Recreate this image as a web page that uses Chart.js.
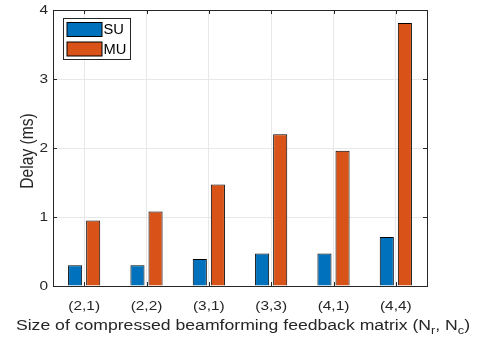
<!DOCTYPE html>
<html>
<head>
<meta charset="utf-8">
<script src="https://cdn.jsdelivr.net/npm/chart.js@4.4.0/dist/chart.umd.min.js"></script>
<style>
  html, body { margin: 0; padding: 0; background: #fff; }
  #wrap { width: 477px; height: 341px; }
</style>
</head>
<body>
<div id="wrap"><canvas id="delayChart" width="477" height="341"></canvas></div>
<script>
// Feedback matrix sizes and measured delays (ms)
const categories = ['(2,1)', '(2,2)', '(3,1)', '(3,3)', '(4,1)', '(4,4)'];
const suDelay = [0.30, 0.30, 0.39, 0.47, 0.47, 0.71];
const muDelay = [0.95, 1.08, 1.47, 2.20, 1.96, 3.81];
const yTicks = [0, 1, 2, 3, 4];

const FONT = '"Liberation Sans", Arial, sans-serif';
const AXIS_COLOR = '#262626';
const STRETCH = 1.16; // the figure's text is drawn slightly wide

// text drawn with a horizontal stretch
function wideText(ctx, text, x, y, align, sx) {
    ctx.save();
    ctx.translate(x, y);
    ctx.scale(sx || STRETCH, 1);
    ctx.textAlign = align;
    ctx.fillText(text, 0, 0);
    ctx.restore();
}

// Box, inward ticks, tick labels, axis labels and the in-axes legend
const matlabAxes = {
    id: 'matlabAxes',
    afterDraw(chart) {
        const ctx = chart.ctx;
        const a = chart.chartArea;
        const x = chart.scales.x;
        const y = chart.scales.y;
        ctx.save();
        ctx.strokeStyle = AXIS_COLOR;
        ctx.lineWidth = 1;
        ctx.strokeRect(Math.round(a.left) + 0.5, Math.round(a.top) + 0.5,
            Math.round(a.right - a.left), Math.round(a.bottom - a.top));

        ctx.beginPath();
        categories.forEach((c, i) => {
            const px = Math.round(x.getPixelForValue(i)) + 0.5;
            ctx.moveTo(px, a.bottom); ctx.lineTo(px, a.bottom - 4);
            ctx.moveTo(px, a.top); ctx.lineTo(px, a.top + 4);
        });
        yTicks.forEach(v => {
            const py = Math.round(y.getPixelForValue(v)) + 0.5;
            ctx.moveTo(a.left, py); ctx.lineTo(a.left + 4, py);
            ctx.moveTo(a.right, py); ctx.lineTo(a.right - 4, py);
        });
        ctx.stroke();

        // tick labels
        ctx.fillStyle = AXIS_COLOR;
        ctx.font = '13.3px ' + FONT;
        ctx.textBaseline = 'alphabetic';
        categories.forEach((c, i) => {
            wideText(ctx, c, x.getPixelForValue(i), a.bottom + 24, 'center');
        });
        ctx.textBaseline = 'middle';
        yTicks.forEach(v => {
            wideText(ctx, String(v), a.left - 5, y.getPixelForValue(v) + 0.5, 'right');
        });

        // y axis label (stretch lies along the glyph height once rotated)
        ctx.save();
        ctx.translate(33, (a.top + a.bottom) / 2 + 3);
        ctx.rotate(-Math.PI / 2);
        ctx.scale(1, STRETCH);
        ctx.font = '15.6px ' + FONT;
        ctx.textAlign = 'center';
        ctx.textBaseline = 'alphabetic';
        ctx.fillText('Delay (ms)', 0, 0);
        ctx.restore();

        // x axis label with subscripts
        const parts = [
            ['Size of compressed beamforming feedback matrix (N', false],
            ['r', true], [', N', false], ['c', true], [')', false]
        ];
        const big = '15.2px ' + FONT, small = '11px ' + FONT;
        let total = 0;
        parts.forEach(p => { ctx.font = p[1] ? small : big; total += ctx.measureText(p[0]).width * STRETCH; });
        let cx = (a.left + a.right) / 2 + 3 - total / 2;
        const base = 330;
        ctx.textBaseline = 'alphabetic';
        parts.forEach(p => {
            ctx.font = p[1] ? small : big;
            wideText(ctx, p[0], cx, p[1] ? base + 4 : base, 'left');
            cx += ctx.measureText(p[0]).width * STRETCH;
        });

        // legend
        const lx = a.left + 10.5, ly = a.top + 8.5;
        ctx.fillStyle = '#fff';
        ctx.fillRect(lx, ly, 67, 41);
        ctx.strokeStyle = AXIS_COLOR;
        ctx.strokeRect(lx, ly, 67, 41);
        ctx.font = '14px ' + FONT;
        ctx.textBaseline = 'middle';
        chart.data.datasets.forEach((ds, i) => {
            const sy = ly + 4 + i * 19.5;
            ctx.fillStyle = ds.backgroundColor;
            ctx.fillRect(lx + 3.5, sy, 35, 14);
            ctx.strokeStyle = '#000';
            ctx.strokeRect(lx + 3.5, sy, 35, 14);
            ctx.fillStyle = '#000';
            wideText(ctx, ds.label, lx + 40, sy + 8, 'left', 1.05);
        });
        ctx.restore();
    }
};

new Chart(document.getElementById('delayChart'), {
    type: 'bar',
    data: {
        labels: categories,
        datasets: [
            { label: 'SU', data: suDelay, backgroundColor: '#0072BD', borderColor: '#000', borderWidth: 1 },
            { label: 'MU', data: muDelay, backgroundColor: '#D95319', borderColor: '#000', borderWidth: 1 }
        ]
    },
    options: {
        responsive: false,
        animation: false,
        categoryPercentage: 0.58,
        barPercentage: 0.78,
        layout: { padding: { top: 10, right: 50, left: 0, bottom: 0 } },
        plugins: { legend: { display: false }, tooltip: { enabled: false } },
        scales: {
            x: {
                grid: { color: '#e8e8e8', offset: false, drawTicks: false },
                border: { display: false },
                ticks: { display: false },
                afterFit(s) { s.height = 55; }
            },
            y: {
                min: 0, max: 4,
                afterBuildTicks(s) { s.ticks = yTicks.map(v => ({ value: v })); },
                grid: { color: '#e8e8e8', drawTicks: false },
                border: { display: false },
                ticks: { display: false },
                afterFit(s) { s.width = 53; }
            }
        }
    },
    plugins: [matlabAxes]
});
</script>
</body>
</html>
